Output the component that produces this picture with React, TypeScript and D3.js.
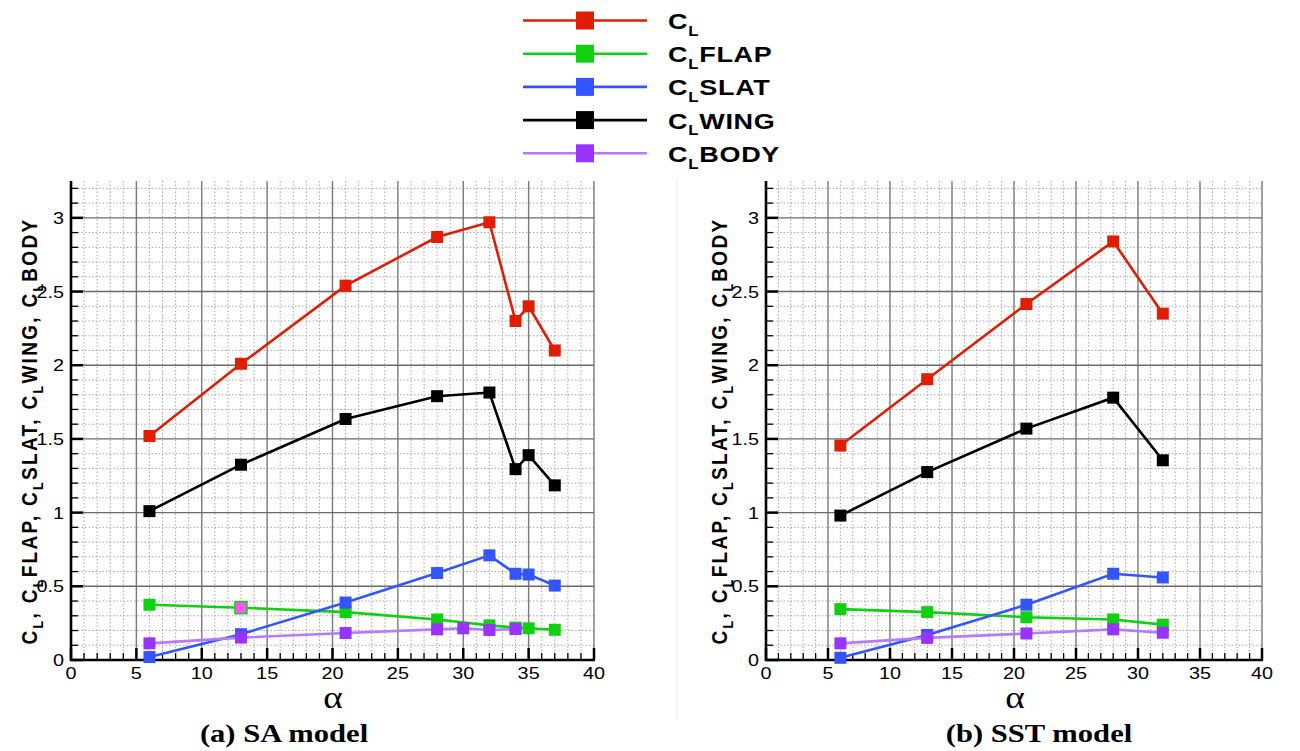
import React from 'react'
import * as d3 from 'd3'

// SA model (a)
const alphaSA = [6, 13, 21, 28, 32, 34, 35, 37]
const clSA = [1.52, 2.01, 2.54, 2.87, 2.97, 2.3, 2.4, 2.1]
const clFlapSA = [0.375, 0.355, 0.325, 0.275, 0.235, 0.22, 0.215, 0.205]
const clSlatSA = [0.02, 0.175, 0.39, 0.59, 0.71, 0.585, 0.58, 0.505]
const clWingSA = [1.01, 1.325, 1.635, 1.79, 1.815, 1.295, 1.39, 1.185]
const alphaBodySA = [6, 13, 21, 28, 30, 32, 34]
const clBodySA = [0.113, 0.152, 0.183, 0.208, 0.215, 0.204, 0.21]

// SST model (b)
const alphaSST = [6, 13, 21, 28, 32]
const clSST = [1.455, 1.905, 2.415, 2.84, 2.35]
const clFlapSST = [0.345, 0.325, 0.29, 0.275, 0.24]
const clSlatSST = [0.015, 0.17, 0.375, 0.585, 0.56]
const clWingSST = [0.98, 1.275, 1.57, 1.78, 1.355]
const clBodySST = [0.113, 0.15, 0.18, 0.208, 0.185]

const seriesNames = ['', 'FLAP', 'SLAT', 'WING', 'BODY']
const markerColors = ['#e01e06', '#11d011', '#3355ff', '#000000', '#9933ff']
const lineColors = ['#e01e06', '#11d011', '#3355ff', '#000000', '#b57aff']

const xTicks = [0, 5, 10, 15, 20, 25, 30, 35, 40]
const yTicks = [0, 0.5, 1, 1.5, 2, 2.5, 3]
const yTickLabels = ['0', '0.5', '1', '1.5', '2', '2.5', '3']

const W = 1300
const H = 751
const SX = 1.2 // the figure is stretched horizontally
const sans = 'Liberation Sans, Arial, sans-serif'
const serif = 'Liberation Serif, Times New Roman, serif'

type Pt = { a: number, v: number }

const zip = (a: number[], v: number[]): Pt[] => a.map((d, i) => ({ a: d, v: v[i] }))

const dataSA = [
  zip(alphaSA, clSA),
  zip(alphaSA, clFlapSA),
  zip(alphaSA, clSlatSA),
  zip(alphaSA, clWingSA),
  zip(alphaBodySA, clBodySA)
]
const dataSST = [
  zip(alphaSST, clSST),
  zip(alphaSST, clFlapSST),
  zip(alphaSST, clSlatSST),
  zip(alphaSST, clWingSST),
  zip(alphaSST, clBodySST)
]

const Label = ({ x, y, name, size, sub, ls }: any) => (
  <text transform={`translate(${x},${y}) scale(${SX},1)`} fontFamily={sans} fontWeight="bold"
    fontSize={size} letterSpacing={ls}>
    C<tspan fontSize={sub} dy={size * 0.3}>L</tspan>
    <tspan dy={-size * 0.3}>{name}</tspan>
  </text>
)

const Panel = ({ left, right, data, ylabelX, alphaX, subtitle, subtitleX, oddMarker }: any) => {
  const x = d3.scaleLinear().domain([0, 40]).range([left, right])
  const y = d3.scaleLinear().domain([0, 3.25]).range([660, 181])
  const minorX = d3.range(0, 41)
  const minorY = d3.range(0, 33).map(i => i / 10)
  const line = d3.line<Pt>().x(d => x(d.a)).y(d => y(d.v))
  const ms = 12

  return (
    <g>
      {/* minor grid */}
      {minorX.filter(v => v % 5 !== 0).map(v => (
        <line key={'gx' + v} x1={x(v)} x2={x(v)} y1={y(3.25)} y2={y(0)}
          stroke="#a8a8a8" strokeWidth={1} strokeDasharray="1.5,2" />
      ))}
      {minorY.filter((v, i) => i % 5 !== 0).map(v => (
        <line key={'gy' + v} x1={x(0)} x2={x(40)} y1={y(v)} y2={y(v)}
          stroke="#a8a8a8" strokeWidth={1} strokeDasharray="1.5,2" />
      ))}
      {/* major grid */}
      {xTicks.map(v => (
        <line key={'Gx' + v} x1={x(v)} x2={x(v)} y1={y(3.25)} y2={y(0)} stroke="#7a7a7a" strokeWidth={1.4} />
      ))}
      {yTicks.map(v => (
        <line key={'Gy' + v} x1={x(0)} x2={x(40)} y1={y(v)} y2={y(v)} stroke="#6a6a6a" strokeWidth={1.4} />
      ))}
      {/* ticks */}
      {minorX.map(v => (
        <line key={'tx' + v} x1={x(v)} x2={x(v)} y1={y(0)} y2={y(0) - (v % 5 === 0 ? 12 : 7)}
          stroke="#000" strokeWidth={v % 5 === 0 ? 2.5 : 1.3} />
      ))}
      {minorY.map((v, i) => (
        <line key={'ty' + v} x1={x(0)} x2={x(0) + (i % 5 === 0 ? 12 : 7)} y1={y(v)} y2={y(v)}
          stroke="#000" strokeWidth={i % 5 === 0 ? 2.5 : 1.3} />
      ))}
      {/* axes */}
      <line x1={x(0)} x2={x(0)} y1={y(3.25)} y2={y(0) + 1} stroke="#000" strokeWidth={2.6} />
      <line x1={x(0) - 1} x2={x(40) + 1} y1={y(0)} y2={y(0)} stroke="#000" strokeWidth={2.6} />
      {/* tick labels */}
      {xTicks.map(v => (
        <text key={'lx' + v} transform={`translate(${x(v)},679) scale(${SX},1)`} textAnchor="middle"
          fontFamily={sans} fontSize={16.5}>{v}</text>
      ))}
      {yTicks.map((v, i) => (
        <text key={'ly' + v} transform={`translate(${x(0) - 7},${y(v) + 6}) scale(${SX},1)`} textAnchor="end"
          fontFamily={sans} fontSize={16.5}>{yTickLabels[i]}</text>
      ))}
      {/* series */}
      {data.map((s: Pt[], k: number) => (
        <g key={'s' + k}>
          <path d={line(s) || ''} fill="none" stroke={lineColors[k]} strokeWidth={2.6} />
          {s.map((d, j) => (
            <rect key={j} x={x(d.a) - ms / 2} y={y(d.v) - ms / 2} width={ms} height={ms}
              fill={oddMarker && k === 1 && j === 1 ? '#ff55ff' : markerColors[k]}
              stroke={oddMarker && k === 1 && j === 1 ? markerColors[k] : 'none'} strokeWidth={1.5} />
          ))}
        </g>
      ))}
      {/* axis titles */}
      <text transform={`translate(${ylabelX},431) scale(${SX},1) rotate(-90)`} textAnchor="middle" fontFamily={sans}
        fontWeight="bold" fontSize={19} letterSpacing={2.3}>
        C<tspan fontSize={12.5} dy={5}>L</tspan><tspan dy={-5}>, C</tspan>
        <tspan fontSize={12.5} dy={5}>L</tspan><tspan dy={-5}>FLAP, C</tspan>
        <tspan fontSize={12.5} dy={5}>L</tspan><tspan dy={-5}>SLAT, C</tspan>
        <tspan fontSize={12.5} dy={5}>L</tspan><tspan dy={-5}>WING, C</tspan>
        <tspan fontSize={12.5} dy={5}>L</tspan><tspan dy={-5}>BODY</tspan>
      </text>
      <text transform={`translate(${alphaX},708) scale(${SX},1)`} textAnchor="middle" fontFamily={serif}
        fontSize={31}>α</text>
      <text transform={`translate(${subtitleX},742) scale(${SX},1)`} textAnchor="middle" fontFamily={serif}
        fontWeight="bold" fontSize={25.5}>{subtitle}</text>
    </g>
  )
}

const App = () => {
  const legendY = seriesNames.map((d, i) => 20.5 + i * 33.2)
  return (
    <svg width={W} height={H} style={{ position: 'absolute', left: 0, top: 0, background: '#fff' }}>
      <rect width={W} height={H} fill="#fff" />
      <line x1={677} x2={677} y1={178} y2={720} stroke="#ececec" strokeWidth={1} />
      {/* legend */}
      {seriesNames.map((n, i) => (
        <g key={'lg' + i}>
          <line x1={523} x2={647} y1={legendY[i]} y2={legendY[i]} stroke={lineColors[i]} strokeWidth={2.6} />
          <rect x={585 - 9} y={legendY[i] - 9} width={18} height={18} fill={markerColors[i]} />
          <Label x={668} y={legendY[i] + 8.5} name={n} size={22.5} sub={14} ls={0.6} />
        </g>
      ))}
      <Panel left={71} right={594} data={dataSA} ylabelX={37} alphaX={333}
        subtitle="(a) SA model" subtitleX={284} oddMarker />
      <Panel left={766} right={1262} data={dataSST} ylabelX={727} alphaX={1015}
        subtitle="(b) SST model" subtitleX={1039} />
    </svg>
  )
}

export default App
